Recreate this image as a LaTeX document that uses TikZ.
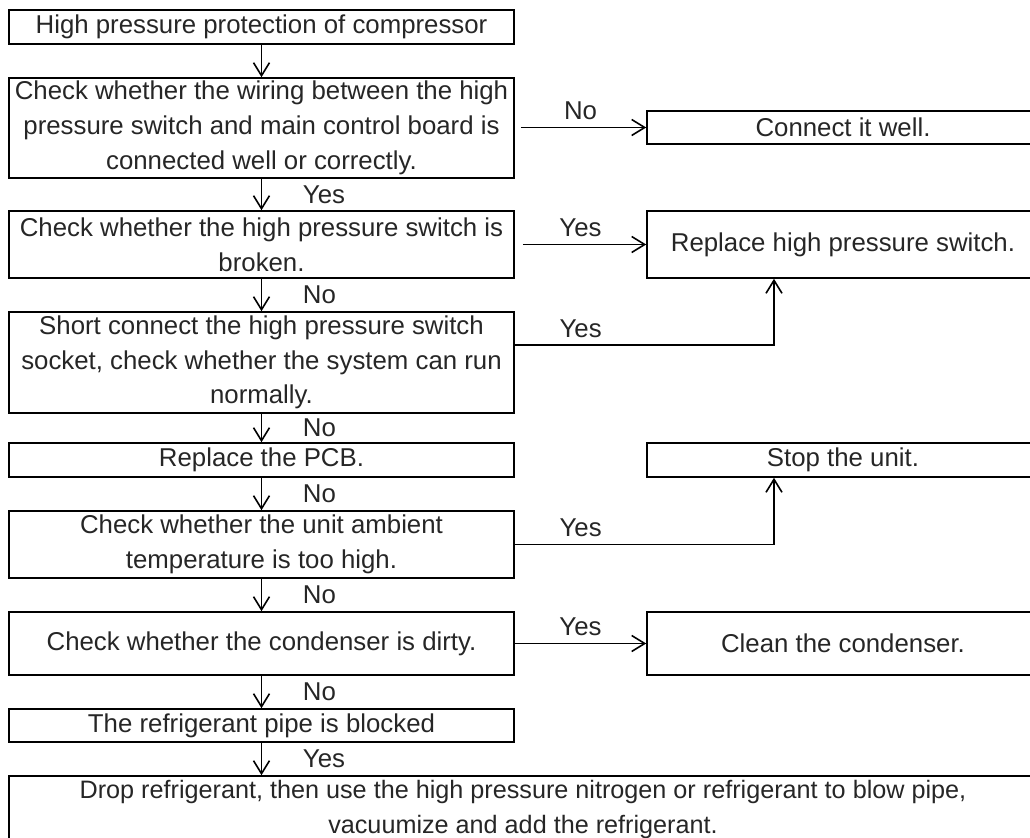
\documentclass[tikz,border=0pt]{standalone}
\usepackage{fontspec}
\setmainfont{Liberation Sans}
\usetikzlibrary{arrows.meta}

\begin{document}
\begin{tikzpicture}[x=0.5pt,y=-0.5pt,font=\fontsize{12.9}{17.4}\selectfont,text=black!85,
  lbox/.style={draw,line width=0.8pt,align=center,inner sep=0pt,minimum width=252.5pt},
  rbox/.style={draw,line width=0.8pt,align=center,inner sep=0pt,minimum width=196pt},
  arr/.style={line width=0.8pt,-{Straight Barb[length=6.5pt,width=8pt]}},
  lbl/.style={right=17pt,midway}]
\useasboundingbox (0,0) rectangle (1030,838);
\clip (0,0) rectangle (1030,838);
\node[lbox,minimum height=17pt] (prot) at (261.5,27) {High pressure protection of compressor};
\node[lbox,minimum height=50pt] (wiring) at (261.5,128) {Check whether the wiring between the high\\pressure switch and main control board is\\connected well or correctly.};
\node[lbox,minimum height=33.5pt] (hpsw) at (261.5,244.5) {Check whether the high pressure switch is\\broken.};
\node[lbox,minimum height=50.5pt] (short) at (261.5,362.5) {Short connect the high pressure switch\\socket, check whether the system can run\\normally.};
\node[lbox,minimum height=17pt] (pcb) at (261.5,460) {Replace the PCB.};
\node[lbox,minimum height=33.5pt] (ambient) at (261.5,544.5) {Check whether the unit ambient\\temperature is too high.};
\node[lbox,minimum height=31.5pt] (cond) at (261.5,643.5) {Check whether the condenser is dirty.};
\node[lbox,minimum height=16.5pt] (pipe) at (261.5,725.5) {The refrigerant pipe is blocked};
\node[draw,line width=0.8pt,align=center,inner sep=0pt,minimum width=514pt,minimum height=33.5pt,
  font=\fontsize{12.6}{17.4}\selectfont] (blow) at (523,809.5)
  {Drop refrigerant, then use the high pressure nitrogen or refrigerant to blow pipe,\\vacuumize and add the refrigerant.};
\node[rbox,minimum height=16.5pt] (connect) at (843,127.5) {Connect it well.};
\node[rbox,minimum height=33.5pt] (replsw) at (843,244.5) {Replace high pressure switch.};
\node[rbox,minimum height=17pt] (stop) at (843,460) {Stop the unit.};
\node[rbox,minimum height=31.5pt] (clean) at (843,643.5) {Clean the condenser.};
\draw[arr] (prot) -- (wiring);
\foreach \a/\b/\l in {wiring/hpsw/Yes,hpsw/short/No,short/pcb/No,pcb/ambient/No,ambient/cond/No,cond/pipe/No,pipe/blow/Yes}
  \draw[arr] (\a.south) -- (\a.south |- \b.north) node[lbl] {\l};
\draw[arr,shorten <=3pt] (wiring.east |- connect) -- (connect) node[above,midway] {No};
\draw[arr,shorten <=4pt] (hpsw.east |- replsw) -- (replsw) node[above,midway] {Yes};
\draw[arr] ([yshift=8.75pt]short.east) -| ([xshift=-34.5pt]replsw.south) node[above,pos=0.127] {Yes};
\draw[arr] (ambient.east) -| ([xshift=-34.5pt]stop.south) node[above,pos=0.127] {Yes};
\draw[arr] (cond) -- (clean) node[above,midway] {Yes};
\end{tikzpicture}
\end{document}
